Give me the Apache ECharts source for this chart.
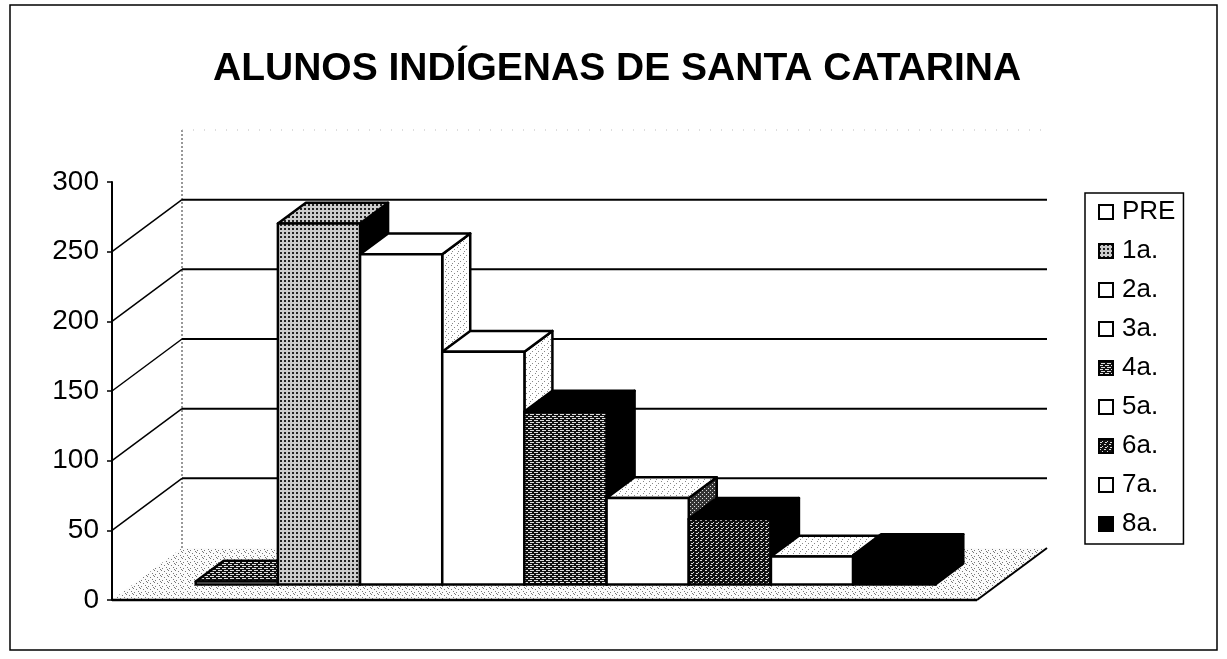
<!DOCTYPE html>
<html>
<head>
<meta charset="utf-8">
<script src="https://cdn.jsdelivr.net/npm/echarts@6/dist/echarts.min.js"></script>
<style>
  html, body { margin: 0; padding: 0; background: #fff; }
  #chart { width: 1227px; height: 659px; }
</style>
</head>
<body>
<div id="chart"></div>
<script>
// Grade levels and enrolled students per grade
const CATEGORIES = ['PRE', '1a.', '2a.', '3a.', '4a.', '5a.', '6a.', '7a.', '8a.'];
const VALUES = [2, 259, 237, 167, 124, 62, 47, 20, 21];
const Y_TICKS = [0, 50, 100, 150, 200, 250, 300];
const TITLE = 'ALUNOS INDÍGENAS DE SANTA CATARINA';

// Oblique depth of the 3D box (pixels) and where the bars sit inside it
const DEPTH = [70, -52];
const BAR_FRONT = 0.3;
const BAR_BACK = 0.7;
const BAR_SHARE = 0.095;   // share of the category band taken by one bar
const FONT = 'Liberation Sans, Arial, sans-serif';

// Small repeating tiles used as fills
function tile(w, h, bg, dotColor, dots) {
  const c = document.createElement('canvas');
  c.width = w; c.height = h;
  const g = c.getContext('2d');
  g.fillStyle = bg; g.fillRect(0, 0, w, h);
  g.fillStyle = dotColor;
  dots.forEach(d => g.fillRect(d[0], d[1], d[2] || 1, d[3] || 1));
  return { image: c, repeat: 'repeat' };
}
const DOTTED = tile(4, 4, '#cccccc', '#222', [[0, 0, 2, 2]]);
const HATCH = tile(6, 4, '#111', '#e0e0e0', [[0, 0, 4, 1], [2, 2, 4, 1]]);
const HATCH_DARK = tile(5, 5, '#111', '#dcdcdc', [[0, 0, 2, 1], [3, 2, 1, 1], [1, 3, 2, 1]]);
const SPECKLE = tile(6, 6, '#fff', '#888', [[1, 1], [4, 3], [2, 5]]);
const SPECKLE_DARK = tile(4, 4, '#333', '#ddd', [[0, 0], [2, 2]]);
const FLOOR = tile(7, 6, '#fbfbfb', '#777', [[0, 0], [3, 1], [5, 3], [1, 4], [6, 5]]);

// Face fills per grade: front, top, right side, legend swatch
const FACES = [
  { front: '#fff', top: HATCH, side: '#000', swatch: '#fff' },
  { front: DOTTED, top: DOTTED, side: '#000', swatch: DOTTED },
  { front: '#fff', top: '#fff', side: SPECKLE, swatch: '#fff' },
  { front: '#fff', top: '#fff', side: SPECKLE, swatch: '#fff' },
  { front: HATCH, top: '#000', side: '#000', swatch: HATCH },
  { front: '#fff', top: SPECKLE, side: SPECKLE_DARK, swatch: '#fff' },
  { front: HATCH_DARK, top: '#000', side: '#000', swatch: HATCH_DARK },
  { front: '#fff', top: SPECKLE, side: '#000', swatch: '#fff' },
  { front: '#000', top: '#000', side: '#000', swatch: '#000' }
];

const EDGE = { stroke: '#000', lineWidth: 2.5, lineJoin: 'round' };

function line(x1, y1, x2, y2, style) {
  return { type: 'line', shape: { x1, y1, x2, y2 }, style: Object.assign({ stroke: '#000', lineWidth: 2 }, style || {}) };
}

// Floor, back wall grid and side wall grid of the 3D box
function renderWalls(params, api) {
  const cs = params.coordSys;
  const xL = cs.x, xR = cs.x + cs.width;
  const y0 = api.coord([0, 0])[1];
  const [dx, dy] = DEPTH;
  const kids = [];
  kids.push({
    type: 'polygon',
    shape: { points: [[xL, y0], [xR, y0], [xR + dx, y0 + dy], [xL + dx, y0 + dy]] },
    style: { fill: FLOOR }
  });
  const yTop = api.coord([0, Y_TICKS[Y_TICKS.length - 1]])[1];
  kids.push(line(xL + dx, yTop + dy, xL + dx, y0 + dy, { stroke: '#555', lineWidth: 1.2, lineDash: [2, 2] }));
  kids.push(line(xL + dx, yTop + dy, xR + dx, yTop + dy, { stroke: '#bbb', lineWidth: 1, lineDash: [1, 10] }));
  Y_TICKS.forEach(v => {
    if (v === 0 || v === Y_TICKS[Y_TICKS.length - 1]) return;
    const y = api.coord([0, v])[1];
    kids.push(line(xL, y, xL + dx, y + dy, { lineWidth: 1.5 }));
    kids.push(line(xL + dx, y + dy, xR + dx, y + dy, { lineWidth: 2 }));
  });
  kids.push(line(xL, y0, xR, y0, { lineWidth: 2.5 }));
  kids.push(line(xR, y0, xR + dx, y0 + dy, { lineWidth: 2 }));
  return { type: 'group', children: kids };
}

// One 3D bar: front face, top face and right side face
function makeBar(idx) {
  return function (params, api) {
    const base = api.coord([0, 0]);
    const top = api.coord([0, api.value(1)]);
    const band = api.size([1, 0])[0];
    const w = band * BAR_SHARE;
    const n = CATEGORIES.length;
    const fx = DEPTH[0] * BAR_FRONT, fy = DEPTH[1] * BAR_FRONT;
    const bx = DEPTH[0] * (BAR_BACK - BAR_FRONT), by = DEPTH[1] * (BAR_BACK - BAR_FRONT);
    const xl = base[0] - w * n / 2 + idx * w + fx;
    const xr = xl + w;
    const yb = base[1] + fy;
    const yt = top[1] + fy;
    const f = FACES[idx];
    return {
      type: 'group',
      children: [
        { type: 'polygon', shape: { points: [[xr, yt], [xr + bx, yt + by], [xr + bx, yb + by], [xr, yb]] },
          style: Object.assign({ fill: f.side }, EDGE) },
        { type: 'polygon', shape: { points: [[xl, yt], [xr, yt], [xr + bx, yt + by], [xl + bx, yt + by]] },
          style: Object.assign({ fill: f.top }, EDGE) },
        { type: 'polygon', shape: { points: [[xl, yt], [xr, yt], [xr, yb], [xl, yb]] },
          style: Object.assign({ fill: f.front }, EDGE) }
      ]
    };
  };
}

const series = [{
  type: 'custom',
  name: '__walls',
  data: [[0, 0]],
  renderItem: renderWalls,
  silent: true,
  z: 1
}];
CATEGORIES.forEach((name, i) => {
  series.push({
    type: 'custom',
    name: name,
    data: [[0, VALUES[i]]],
    renderItem: makeBar(i),
    itemStyle: { color: FACES[i].swatch },
    encode: { x: 0, y: 1 },
    z: 2
  });
});

const chart = echarts.init(document.getElementById('chart'), null, { renderer: 'canvas' });
chart.setOption({
  animation: false,
  backgroundColor: '#fff',
  title: {
    text: TITLE,
    left: 208,
    top: 45,
    textStyle: { fontSize: 39, fontWeight: 'bold', fontFamily: FONT, color: '#000' }
  },
  grid: { left: 112, right: 250, top: 182, bottom: 59, containLabel: false },
  xAxis: {
    type: 'category',
    data: [''],
    axisLine: { show: false },
    axisTick: { show: false },
    axisLabel: { show: false },
    splitLine: { show: false }
  },
  yAxis: {
    type: 'value',
    min: 0,
    max: 300,
    interval: 50,
    axisLine: { show: true, lineStyle: { color: '#000', width: 2 } },
    axisTick: { show: true, length: 5, lineStyle: { color: '#000', width: 1.5 } },
    axisLabel: { fontSize: 28, color: '#000', fontFamily: FONT, margin: 13 },
    splitLine: { show: false }
  },
  legend: {
    orient: 'vertical',
    left: 1085,
    top: 193,
    selectedMode: false,
    data: CATEGORIES.map((name, i) => ({
      name: name,
      icon: 'rect',
      itemStyle: { color: FACES[i].swatch, borderColor: '#000', borderWidth: 2 }
    })),
    itemWidth: 14,
    itemHeight: 14,
    itemGap: 13,
    textStyle: { fontSize: 26, fontFamily: FONT, color: '#000', width: 72, padding: [0, 0, 0, 4] },
    borderColor: '#000',
    borderWidth: 1.5,
    padding: [6, 8, 7, 13]
  },
  graphic: [{
    type: 'rect',
    silent: true,
    shape: { x: 10, y: 5, width: 1207, height: 645 },
    style: { fill: 'none', stroke: '#000', lineWidth: 1.5 }
  }],
  series: series
});
</script>
</body>
</html>
